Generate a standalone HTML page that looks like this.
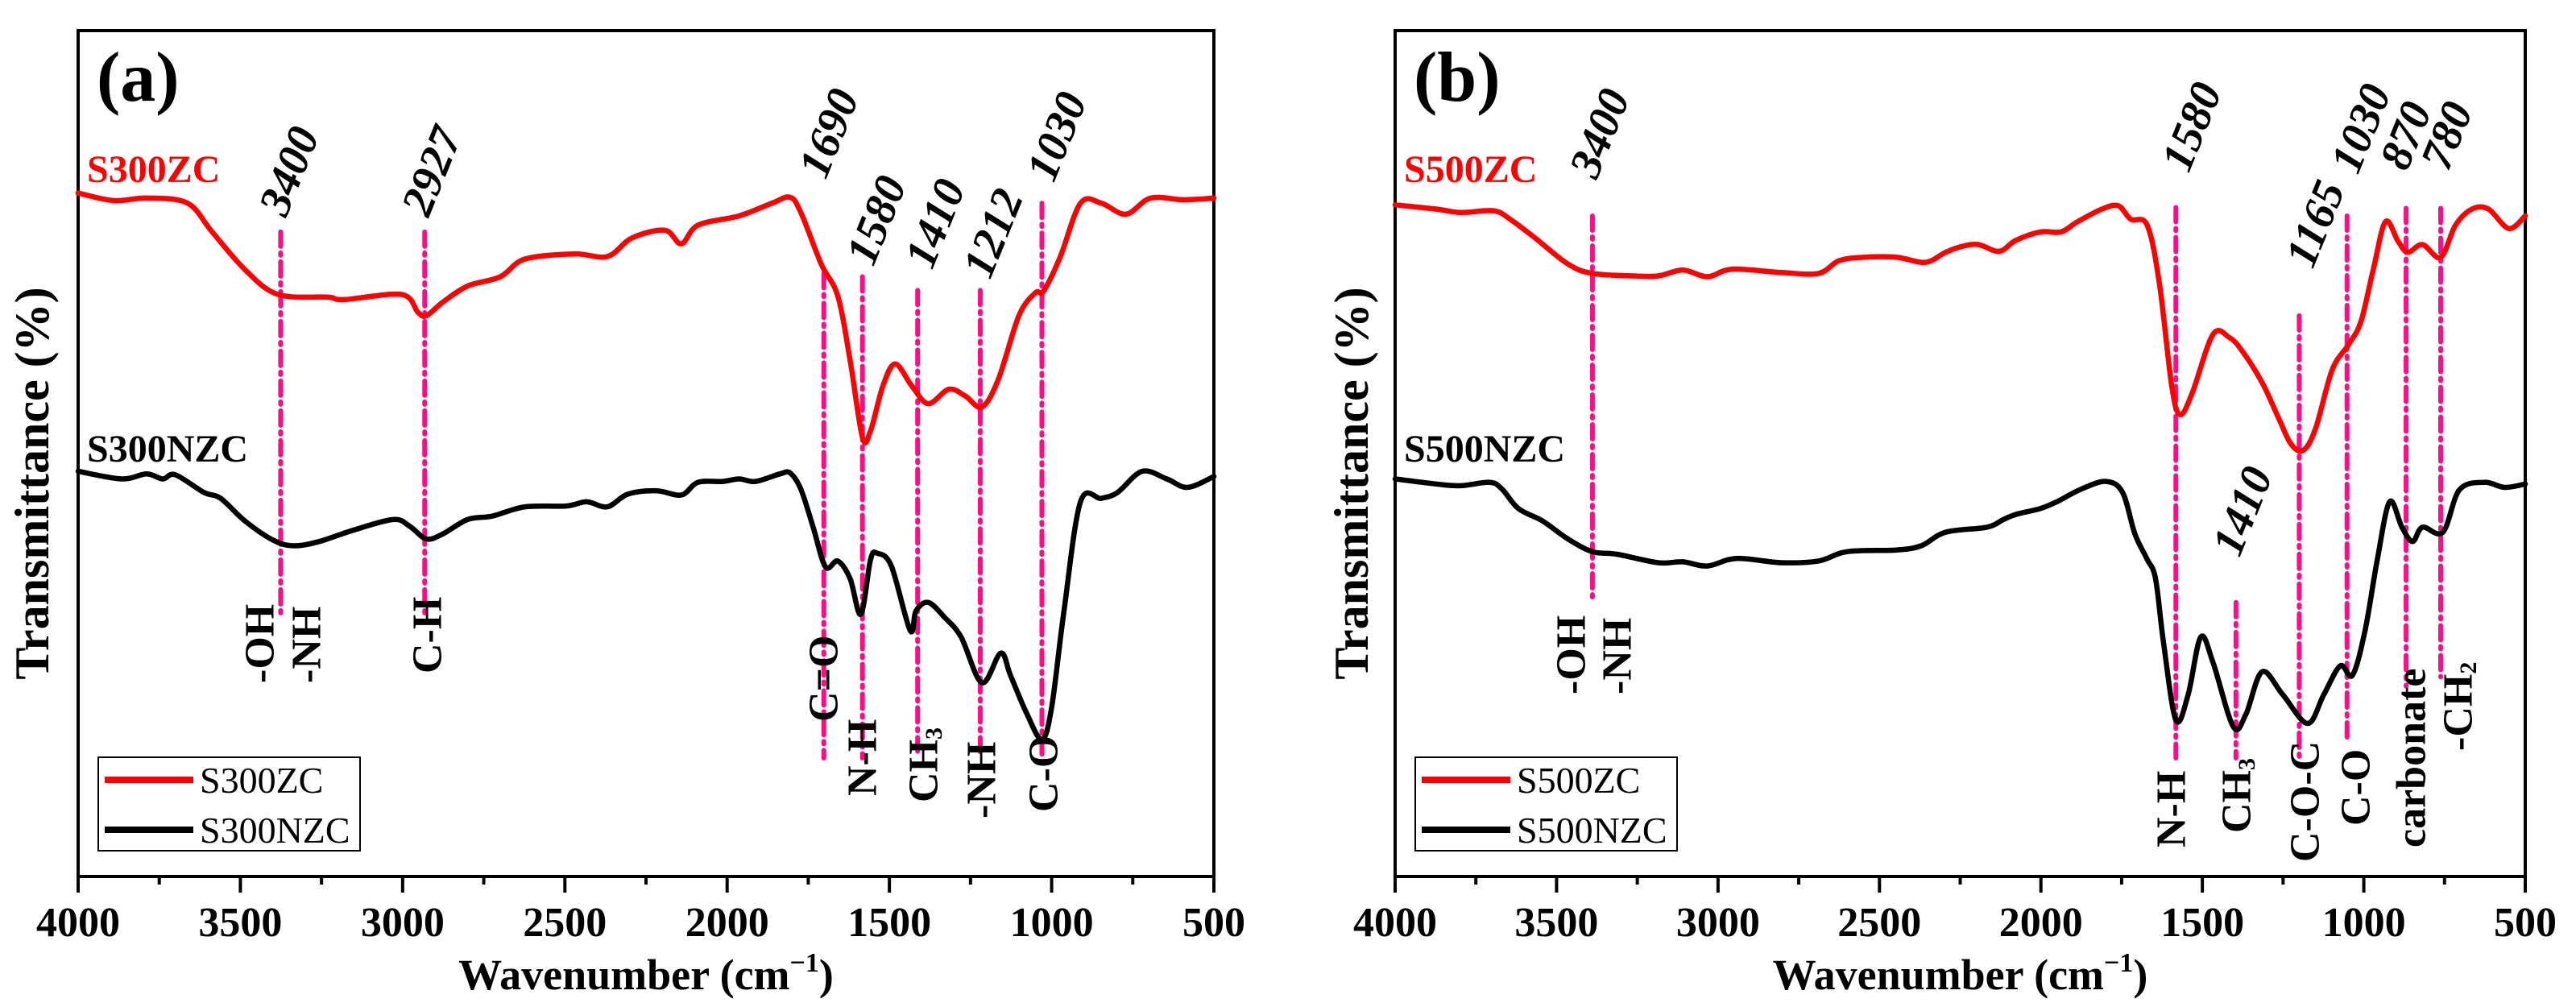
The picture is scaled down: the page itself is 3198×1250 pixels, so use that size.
<!DOCTYPE html>
<html><head><meta charset="utf-8"><style>
html,body{margin:0;padding:0;background:#fff}
svg{display:block}
text{font-family:"Liberation Serif",serif}
</style></head><body>
<svg id="chart" width="3198" height="1250" viewBox="0 0 3198 1250" xmlns="http://www.w3.org/2000/svg"></svg>
<script>
// Panel (a) data: wavenumber (cm-1) and transmittance (arb. %)
const a_red_wn=[4000,3891,3789,3663,3587,3485,3384,3232,3181,3003,2953,2927,2876,2800,2699,2623,2471,2369,2293,2192,2141,2090,1963,1862,1806,1773,1710,1659,1621,1583,1558,1520,1482,1431,1380,1317,1266,1215,1165,1101,1050,1025,974,911,847,771,695,594,500];
const a_red_T=[80.8,79.9,80.2,79.6,76.2,71.7,68.8,68.5,68.2,68.8,66.7,66.3,67.9,69.8,70.9,73.0,73.6,73.3,75.5,76.4,74.8,77.0,78.1,79.6,80.3,78.5,72.4,68.6,61.0,51.9,52.7,58.0,60.6,58.0,55.9,57.6,56.8,55.5,58.7,66.3,69.0,69.2,73.2,79.6,79.6,78.3,80.2,80.0,80.2];
const a_blk_wn=[4000,3866,3789,3739,3701,3612,3561,3485,3396,3333,3257,3155,3029,2978,2927,2876,2800,2724,2623,2496,2433,2369,2306,2217,2141,2090,2014,1963,1913,1837,1806,1773,1735,1697,1659,1621,1588,1558,1537,1494,1436,1418,1380,1329,1279,1215,1157,1127,1076,1030,1000,962,911,847,797,721,645,581,500];
const a_blk_T=[47.9,47.0,47.6,47.0,47.5,45.4,44.7,42.0,39.7,39.1,39.6,40.9,42.2,41.4,39.9,40.5,42.2,42.6,43.7,43.8,44.3,43.7,45.2,45.6,45.1,46.6,46.7,47.0,46.7,47.6,47.7,45.8,41.3,36.6,37.3,35.2,31.0,37.5,38.2,36.7,29.1,31.4,32.4,30.6,28.3,22.9,26.4,23.8,19.2,16.2,20.0,31.4,44.3,44.7,45.4,47.9,47.0,46.0,47.3];
// Panel (b) data
const b_red_wn=[4000,3873,3796,3695,3644,3567,3465,3389,3262,3185,3109,3033,2956,2804,2689,2625,2549,2447,2358,2295,2244,2193,2129,2078,2002,1938,1887,1811,1760,1722,1671,1633,1595,1569,1531,1467,1416,1378,1315,1264,1225,1187,1149,1098,1047,1009,971,933,894,864,818,762,716,665,614,551,500];
const b_red_T=[79.4,78.9,78.5,78.7,77.7,75.5,72.4,71.3,71.0,71.0,71.7,70.9,71.8,71.4,71.3,72.8,73.2,73.2,72.6,73.8,74.5,74.7,73.9,75.2,76.2,76.2,77.4,78.9,79.3,77.7,77.0,70.1,58.0,54.6,57.2,64.1,63.7,62.2,58.4,54.2,51.1,50.4,53.0,59.9,62.9,65.6,71.7,77.4,75.1,73.8,74.7,73.2,77.0,78.9,78.9,76.6,78.1];
const b_blk_wn=[4000,3873,3796,3707,3669,3618,3542,3465,3389,3313,3185,3109,3033,2944,2804,2689,2600,2447,2371,2295,2167,2116,2078,2002,1951,1875,1798,1747,1709,1671,1645,1620,1582,1544,1505,1467,1404,1365,1315,1251,1174,1124,1073,1035,996,958,920,882,849,818,755,704,627,564,500];
const b_blk_T=[47.0,46.4,46.2,46.6,45.8,43.5,42.0,39.9,38.4,38.1,37.1,37.2,36.7,37.6,37.1,37.3,38.4,38.6,39.1,40.7,41.3,42.2,42.8,43.5,44.3,45.8,46.7,45.4,40.5,37.5,35.2,27.6,18.5,21.5,28.3,25.3,17.7,19.2,24.2,21.5,18.1,21.5,24.9,23.8,29.1,37.5,44.3,41.3,39.6,41.3,40.7,45.7,46.6,46.0,46.4];
const xTicks=[4000,3500,3000,2500,2000,1500,1000,500];
// Band marker positions (wavenumber), labels and vertical extents (T top / T bottom)
const a_band_pos=[3376,2932,1702,1583,1413,1220,1030];
const a_band_num=["3400","2927","1690","1580","1410","1212","1030"];
const a_band_top=[76.2,76.2,71.3,70.9,69.3,69.3,79.6];
const a_band_bot=[30.4,30.4,14.0,14.0,14.8,14.0,14.0];
const b_band_pos=[3389,1582,1396,1200,1052,869,762];
const b_band_num=["3400","1580","1410","1165","1030","870","780"];
const b_band_top=[78.1,79.1,32.4,66.3,78.1,79.0,79.0];
const b_band_bot=[32.4,14.0,14.0,14.0,16.0,22.5,23.6];

const svg=document.getElementById('chart');
const NS='http://www.w3.org/2000/svg';
function mk(tag,attrs,parent){const e=document.createElementNS(NS,tag);for(const k in attrs)e.setAttribute(k,attrs[k]);(parent||svg).appendChild(e);return e;}
function txt(x,y,s,size,extra,parent){const t=mk('text',Object.assign({x:x,y:y,'font-size':size,'font-weight':'bold'},extra||{}),parent);t.textContent=s;return t;}
function smoothPath(P){
  let d='M'+P[0][0].toFixed(1)+','+P[0][1].toFixed(1);
  for(let i=0;i<P.length-1;i++){
    const p0=P[i-1]||P[i],p1=P[i],p2=P[i+1],p3=P[i+2]||P[i+1];
    const c1x=p1[0]+(p2[0]-p0[0])/6,c1y=p1[1]+(p2[1]-p0[1])/6;
    const c2x=p2[0]-(p3[0]-p1[0])/6,c2y=p2[1]-(p3[1]-p1[1])/6;
    d+=' C'+c1x.toFixed(1)+','+c1y.toFixed(1)+' '+c2x.toFixed(1)+','+c2y.toFixed(1)+' '+p2[0].toFixed(1)+','+p2[1].toFixed(1);
  }
  return d;
}

function panel(cfg){
  const g=mk('g',{});
  
  
  const L=cfg.L,R=cfg.R,T=38,B=1088;
  const xs=w=>L+(4000-w)/3500*(R-L);
  const ys=v=>B-v/100*(B-T);
  const fr=mk('rect',{x:L,y:T,width:R-L,height:B-T,fill:'none',stroke:'#000','stroke-width':4},g);
  
  
  xTicks.forEach((v,i)=>{
    const x=xs(v);
    const tk=mk('line',{x1:x,y1:B,x2:x,y2:B+20,stroke:'#000','stroke-width':4},g);
    
    
    const lb=txt(x,1162,String(v),52,{'text-anchor':'middle'},g);
    
    
    if(i<xTicks.length-1){
      const m=xs(v-250);
      const mt=mk('line',{x1:m,y1:B,x2:m,y2:B+10,stroke:'#000','stroke-width':4},g);
      
      
    }
  });
  cfg.bpos.forEach((p,i)=>{
    const x=xs(p);
    const ln=mk('line',{x1:x,y1:ys(cfg.btop[i]),x2:x,y2:ys(cfg.bbot[i]),stroke:'#ff0d87','stroke-width':6,'stroke-dasharray':'18 8 3 8','stroke-linecap':'round'},g);
    
    
  });
  function series(wn,Tv,color,name){
    const P=wn.map((w,i)=>[xs(w),ys(Tv[i])]);
    const pl=mk('path',{d:smoothPath(P),fill:'none',stroke:color,'stroke-width':6.5,'stroke-linejoin':'round','stroke-linecap':'round'},g);
    
    
  }
  series(cfg.rwn,cfg.rT,'#ff0000',cfg.rname+'-line');
  series(cfg.kwn,cfg.kT,'#000000',cfg.kname+'-line');
  cfg.numPos.forEach((p,i)=>{
    const x=p[0]+10,y=p[1]-26;
    const t=txt(x,y,cfg.bnum[i],56,{'font-style':'italic',transform:'rotate(-68 '+x+' '+y+')'},g);
    
    
  });
  cfg.groups.forEach(gr=>{
    const t=mk('text',{x:gr[1],y:gr[2],'font-size':52,'font-weight':'bold',transform:'rotate(-90 '+gr[1]+' '+gr[2]+')','dominant-baseline':'central'},g);
    if(gr[3]){t.appendChild(document.createTextNode(gr[0]));const s=mk('tspan',{'font-size':30,dy:12},t);s.textContent=gr[3];}
    else t.textContent=gr[0];
    
    
  });
  const pl=txt(L+23,125,cfg.letter,88,{},g);
  
  
  const s1=txt(L+11,226,cfg.rname,48,{fill:'#ff0000'},g);
  
  
  const s2=txt(L+11,573,cfg.kname,48,{fill:'#000'},g);
  
  
  const lg=mk('g',{},g);
  
  
  mk('rect',{x:L+25,y:940,width:325,height:116,fill:'#fff',stroke:'#000','stroke-width':2},lg);
  const e1=mk('line',{x1:L+33,y1:968,x2:L+143,y2:968,stroke:'#ff0000','stroke-width':8},lg);
  
  
  const e2=mk('line',{x1:L+33,y1:1030,x2:L+143,y2:1030,stroke:'#000','stroke-width':8},lg);
  
  
  const t1=mk('text',{x:L+151,y:984,'font-size':46},lg);t1.textContent=cfg.rname;
  
  
  const t2=mk('text',{x:L+151,y:1046,'font-size':46},lg);t2.textContent=cfg.kname;
  
  
  const yt=txt(cfg.ytx,600,'Transmittance (%)',60,{'text-anchor':'middle','dominant-baseline':'central',transform:'rotate(-90 '+cfg.ytx+' 600)'},g);
  
  
  const cx=(L+R)/2;
  const xt=mk('text',{x:cx,y:1228,'font-size':54,'font-weight':'bold','text-anchor':'middle'},g);
  xt.appendChild(document.createTextNode('Wavenumber (cm'));
  const sup=mk('tspan',{'font-size':34,dy:-22},xt);sup.textContent='\u22121';
  const cl=mk('tspan',{dy:22},xt);cl.textContent=')';
  
  
}

panel({name:'panel-a',letter:'(a)',L:97,R:1507,ytx:40,rname:'S300ZC',kname:'S300NZC',
  rwn:a_red_wn,rT:a_red_T,kwn:a_blk_wn,kT:a_blk_T,
  bpos:a_band_pos,bnum:a_band_num,btop:a_band_top,bbot:a_band_bot,
  numPos:[[345,297],[522,297],[1015,250],[1074,358],[1147,362],[1219,374],[1298,254]],
  groups:[['-OH',323,848],['-NH',381,848],['C-H',531,836],['C=O',1023,896],['N-H',1071,988],['CH',1147,996,'3'],['-NH',1219,1016],['C-O',1296,1008]]});
panel({name:'panel-b',letter:'(b)',L:1732,R:3135,ytx:1678,rname:'S500ZC',kname:'S500NZC',
  rwn:b_red_wn,rT:b_red_T,kwn:b_blk_wn,kT:b_blk_T,
  bpos:b_band_pos,bnum:b_band_num,btop:b_band_top,bbot:b_band_bot,
  numPos:[[1972,250],[2707,242],[2770,719],[2861,361],[2917,244],[2978,240],[3029,240]],
  groups:[['-OH',1951,862],['-NH',2008,862],['N-H',2696,1052],['CH',2777,1034,'3'],['C-O-C',2862,1070],['C-O',2925,1025],['carbonate',2994,1052],['-CH',3052,932,'2']]});
</script>
</body></html>
